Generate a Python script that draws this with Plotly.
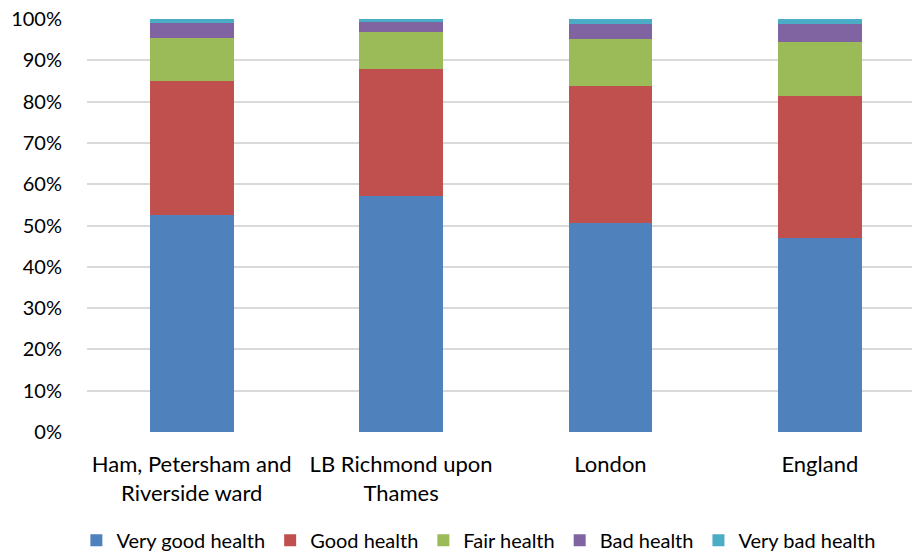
import plotly.graph_objects as go

# Self-reported general health, share of residents (%)
areas = ["Ham, Petersham and<br>Riverside ward", "LB Richmond upon<br>Thames", "London", "England"]
very_good = [52.6, 57.1, 50.5, 47.0]
good = [32.5, 30.8, 33.3, 34.4]
fair = [10.4, 8.9, 11.3, 13.1]
bad = [3.5, 2.4, 3.6, 4.2]
very_bad = [1.0, 0.8, 1.3, 1.3]
pct_ticks = list(range(0, 101, 10))

series = [
    ("Very good health", very_good, "#4F81BD"),
    ("Good health", good, "#C0504D"),
    ("Fair health", fair, "#9BBB59"),
    ("Bad health", bad, "#8064A2"),
    ("Very bad health", very_bad, "#4BACC6"),
]

x_idx = list(range(len(areas)))
FONT = "Lato"

fig = go.Figure()
for name, vals, color in series:
    fig.add_trace(go.Bar(
        x=x_idx, y=vals, name=name, width=0.4,
        marker=dict(color=color, line=dict(width=0)),
    ))

fig.update_layout(
    barmode="stack",
    width=912, height=558,
    margin=dict(l=87, r=0, t=19, b=126, autoexpand=False),
    paper_bgcolor="white", plot_bgcolor="white",
    font=dict(family=FONT, size=20, color="#000000"),
    showlegend=True,
    legend=dict(
        orientation="h", x=0.475, xanchor="center",
        y=-0.215, yanchor="top", font=dict(size=20),
        itemwidth=30, traceorder="normal",
    ),
)
fig.update_xaxes(
    tickmode="array", tickvals=x_idx, ticktext=areas, tickangle=0,
    range=[-0.5, 3.44], showgrid=False, zeroline=False, automargin=False,
    showline=False, ticks="outside", ticklen=13, tickcolor="rgba(0,0,0,0)",
    tickfont=dict(size=22),
)
fig.update_yaxes(
    range=[0, 100], tickmode="array", tickvals=pct_ticks,
    ticktext=[f"{v}%" for v in pct_ticks], automargin=False,
    showgrid=True, gridcolor="#D9D9D9", gridwidth=1.5,
    zeroline=False, showline=False,
    ticks="outside", ticklen=20, tickcolor="rgba(0,0,0,0)",
    tickfont=dict(size=20),
)

fig.write_html("out.html")
